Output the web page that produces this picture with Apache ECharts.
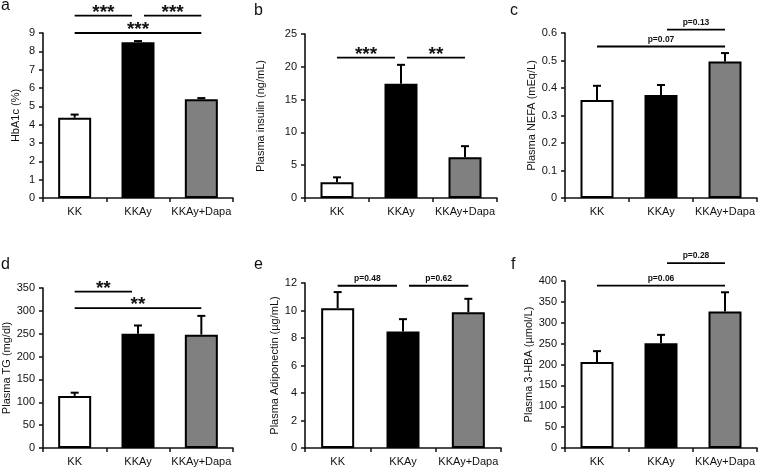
<!DOCTYPE html>
<html>
<head>
<meta charset="utf-8">
<script src="https://cdn.jsdelivr.net/npm/echarts@6/dist/echarts.min.js"></script>
<style>
  html, body { margin: 0; padding: 0; background: #fff; }
  #chart { width: 760px; height: 469px; }
</style>
</head>
<body>
<div id="chart"></div>
<script>
// groups and bar fills
const categories = ['KK', 'KKAy', 'KKAy+Dapa'];
const barColors = ['#ffffff', '#000000', '#808080'];

// a: HbA1c
const hba1cMean = [4.38, 8.49, 5.38];
const hba1cUpper = [4.55, 8.56, 5.45];
const hba1cSig = [[0, 1, 9.95], [1, 2, 9.95], [0, 2, 9.0]];
const hba1cSigText = ['***', '***', '***'];

// b: insulin
const insulinMean = [2.4, 17.4, 6.2];
const insulinUpper = [3.15, 20.3, 7.9];
const insulinSig = [[0, 1, 21.4], [1, 2, 21.4]];
const insulinSigText = ['***', '**'];

// c: NEFA
const nefaMean = [0.356, 0.375, 0.496];
const nefaUpper = [0.408, 0.411, 0.527];
const nefaSig = [[1, 2, 0.612], [0, 2, 0.551]];
const nefaSigText = ['p=0.13', 'p=0.07'];

// d: TG
const tgMean = [114, 250, 248];
const tgUpper = [121, 268, 289];
const tgSig = [[0, 1, 342], [0, 2, 306]];
const tgSigText = ['**', '**'];

// e: adiponectin
const adipoMean = [10.17, 8.47, 9.88];
const adipoUpper = [11.34, 9.37, 10.85];
const adipoSig = [[0, 1, 11.8], [1, 2, 11.8]];
const adipoSigText = ['p=0.48', 'p=0.62'];

// f: 3-HBA
const hbaMean = [206, 251, 327];
const hbaUpper = [232, 271, 373];
const hbaSig = [[1, 2, 443], [0, 2, 389]];
const hbaSigText = ['p=0.28', 'p=0.06'];

const panels = [
    { letter: 'a', name: 'HbA1c (%)', max: 9, step: 1, mean: hba1cMean, upper: hba1cUpper, sig: hba1cSig, sigText: hba1cSigText,
      grid: { left: 43, top: 33, width: 190, height: 165 }, nameGap: 22, title: { left: 1, top: -2 } },
    { letter: 'b', name: 'Plasma insulin (ng/mL)', max: 25, step: 5, mean: insulinMean, upper: insulinUpper, sig: insulinSig, sigText: insulinSigText,
      grid: { left: 305, top: 34, width: 192, height: 164 }, nameGap: 39, title: { left: 254, top: 3 } },
    { letter: 'c', name: 'Plasma NEFA (mEq/L)', max: 0.6, step: 0.1, mean: nefaMean, upper: nefaUpper, sig: nefaSig, sigText: nefaSigText,
      grid: { left: 565, top: 33, width: 192, height: 165 }, nameGap: 27, title: { left: 510, top: 3 } },
    { letter: 'd', name: 'Plasma TG (mg/dl)', max: 350, step: 50, mean: tgMean, upper: tgUpper, sig: tgSig, sigText: tgSigText,
      grid: { left: 43, top: 288, width: 190, height: 160 }, nameGap: 29, title: { left: 1, top: 257 } },
    { letter: 'e', name: 'Plasma Adiponectin (µg/mL)', max: 12, step: 2, mean: adipoMean, upper: adipoUpper, sig: adipoSig, sigText: adipoSigText,
      grid: { left: 305, top: 283, width: 196, height: 165 }, nameGap: 22, title: { left: 254, top: 257 } },
    { letter: 'f', name: 'Plasma 3-HBA (µmol/L)', max: 400, step: 50, mean: hbaMean, upper: hbaUpper, sig: hbaSig, sigText: hbaSigText,
      grid: { left: 565, top: 281, width: 192, height: 167 }, nameGap: 27, title: { left: 511, top: 257 } }
];

const font = 'Liberation Sans, Arial, sans-serif';
const ink = '#111';

let option = {
    backgroundColor: '#fff',
    animation: false,
    textStyle: { fontFamily: font },
    title: [], grid: [], xAxis: [], yAxis: [], series: []
};

panels.forEach((p, k) => {
    option.title.push({
        text: p.letter, left: p.title.left, top: p.title.top, padding: 0,
        textStyle: { fontSize: 16, fontWeight: 'normal', color: ink, fontFamily: font }
    });
    option.grid.push(Object.assign({ containLabel: false }, p.grid));
    option.xAxis.push({
        type: 'category', gridIndex: k, data: categories,
        axisLine: { lineStyle: { color: ink, width: 1.6 } },
        axisTick: { show: true, length: 4, interval: 0, lineStyle: { color: ink, width: 1.5 } },
        axisLabel: { fontSize: 11, color: ink, margin: 8, interval: 0 }
    });
    option.yAxis.push({
        type: 'value', gridIndex: k, min: 0, max: p.max, interval: p.step,
        name: p.name, nameLocation: 'middle', nameGap: p.nameGap,
        nameTextStyle: { fontSize: 11, color: ink },
        axisLine: { show: true, lineStyle: { color: ink, width: 1.6 } },
        axisTick: { show: true, length: 4, lineStyle: { color: ink, width: 1.5 } },
        axisLabel: { fontSize: 11, color: ink, margin: 8 },
        splitLine: { show: false }
    });

    // bars
    option.series.push({
        type: 'bar', xAxisIndex: k, yAxisIndex: k, barWidth: 33,
        data: p.mean.map((v, i) => ({ value: v, itemStyle: { color: barColors[i] } })),
        itemStyle: { borderColor: '#000', borderWidth: 2 }
    });

    // upper error bars
    option.series.push({
        type: 'custom', xAxisIndex: k, yAxisIndex: k, z: 5,
        data: p.upper.map((u, i) => [i, p.mean[i], u]),
        renderItem: function (params, api) {
            const base = api.coord([api.value(0), api.value(1)]);
            const top = api.coord([api.value(0), api.value(2)]);
            const st = { stroke: '#000', lineWidth: 2 };
            return {
                type: 'group',
                children: [
                    { type: 'line', shape: { x1: base[0], y1: base[1], x2: top[0], y2: top[1] }, style: st },
                    { type: 'line', shape: { x1: top[0] - 4, y1: top[1], x2: top[0] + 4, y2: top[1] }, style: st }
                ]
            };
        }
    });

    // significance brackets
    option.series.push({
        type: 'custom', xAxisIndex: k, yAxisIndex: k, z: 6, clip: false,
        data: p.sig,
        renderItem: function (params, api) {
            const gap = 6;
            const i1 = api.value(0), i2 = api.value(1);
            const a = api.coord([i1, api.value(2)]);
            const b = api.coord([i2, api.value(2)]);
            const x1 = a[0] + (i1 === 1 ? gap : 0);
            const x2 = b[0] - (i2 === 1 ? gap : 0);
            const txt = p.sigText[params.dataIndex];
            const stars = txt.charAt(0) === '*';
            return {
                type: 'group',
                children: [
                    { type: 'line', shape: { x1: x1, y1: a[1], x2: x2, y2: a[1] }, style: { stroke: '#000', lineWidth: 1.8 } },
                    { type: 'text', x: (x1 + x2) / 2, y: a[1] - (stars ? 3 : 7),
                      style: { text: txt, align: 'center', verticalAlign: 'middle', fill: ink,
                               font: 'bold ' + (stars ? 19 : 8.5) + 'px ' + font } }
                ]
            };
        }
    });
});

let chart = echarts.init(document.getElementById('chart'));
chart.setOption(option);
</script>
</body>
</html>
